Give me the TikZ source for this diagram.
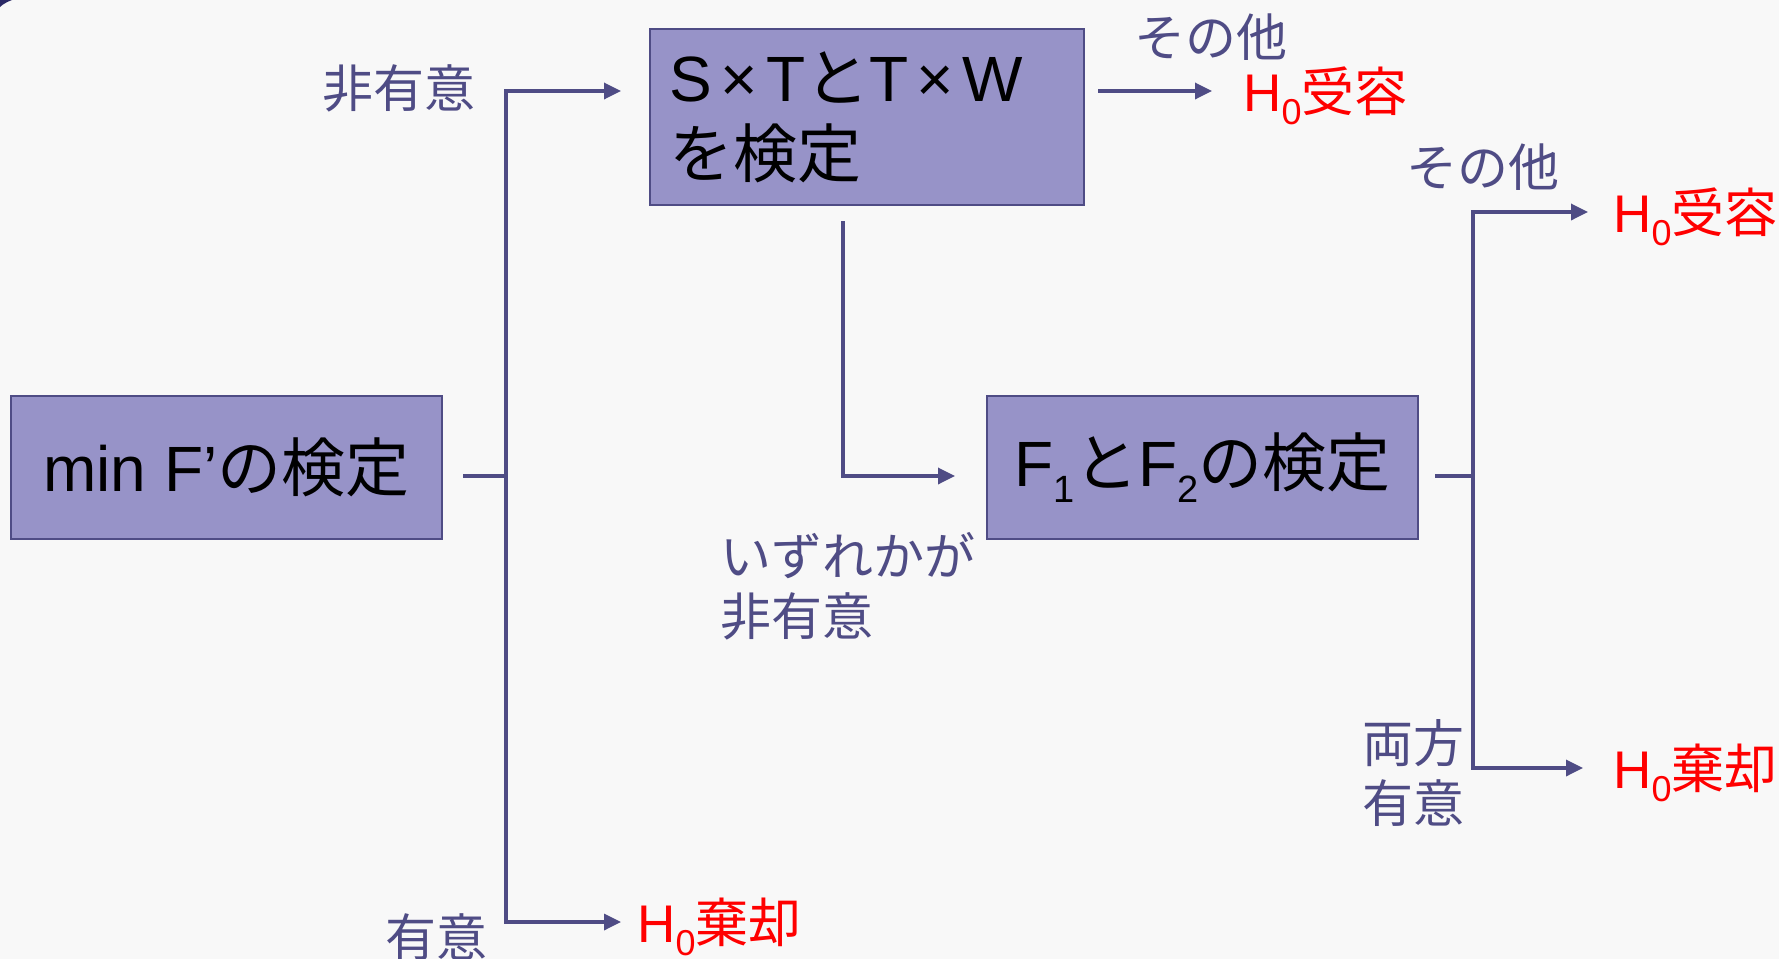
\documentclass[tikz,border=0pt]{standalone}
\usepackage{fontspec}
\setmainfont{Liberation Sans}
\newfontfamily\jp{Noto Sans CJK JP}
\usetikzlibrary{arrows.meta}
\definecolor{bg}{HTML}{F8F8F8}
\definecolor{ink}{HTML}{4F4C85}
\definecolor{boxfill}{HTML}{9793C8}
\definecolor{cornercol}{HTML}{2B2966}
\definecolor{hred}{HTML}{FF0000}
\newcommand{\Hz}{H\raisebox{-6.5pt}{\fontsize{18}{18}\selectfont 0}}
\newcommand{\bsub}[1]{\raisebox{-8pt}{\fontsize{19}{19}\selectfont #1}}
\tikzset{
  box/.style={draw=ink, line width=1pt, fill=boxfill, inner sep=0pt, text=black,
    font=\fontsize{32}{38}\selectfont, minimum width=215.5pt, minimum height=71.5pt},
  lbl/.style={text=ink, font=\jp\fontsize{25.5}{30}\selectfont, inner sep=0pt, align=left},
  res/.style={text=hred, font=\fontsize{26.5}{30}\selectfont, inner sep=0pt, anchor=base west},
  conn/.style={draw=ink, line width=1.7pt},
  arr/.style={conn, -{Triangle[length=8.5pt,width=8pt]}},
}
\begin{document}
\begin{tikzpicture}[x=0.5pt,y=-0.5pt]
\useasboundingbox (0,0) rectangle (1779,959);
\fill[bg] (0,0) rectangle (1779,959);
\fill[cornercol] (0,0) -- (12,0) .. controls (7,2) and (3,4) .. (0,7) -- cycle;

% boxes
\node[box] (b1) at (226.5,467.5) {min F’{\jp の検定}};
\node[box, minimum width=217pt, minimum height=88pt, text width=198pt, align=left, inner xsep=9.5pt]
  (b2) at (867,117) {S\makebox[0.85em]{×}T{\jp と}T\makebox[0.85em]{×}W\\{\jp を検定}};
\node[box] (b3) at (1202.5,467.5) {F\bsub{1}{\jp と}F\bsub{2}{\jp の検定}};

% labels
\node[lbl] (l1) at (399,88) {非有意};
\node[lbl] (l2) at (436,937) {有意};
\node[lbl, anchor=west] (l3) at (720,586) {いずれかが\\非有意};
\node[lbl] (l4) at (1211,37) {その他};
\node[lbl] (l5) at (1483,167) {その他};
\node[lbl, anchor=west] (l6) at (1362,773) {両方\\有意};

% results
\node[res] (r1) at (637,942) {\Hz{\jp 棄却}};
\node[res] (r2) at (1243,111) {\Hz{\jp 受容}};
\node[res] (r3) at (1613,232) {\Hz{\jp 受容}};
\node[res] (r4) at (1613,788) {\Hz{\jp 棄却}};

% connector points
\coordinate (b1out) at (463,476);
\coordinate (j1) at (506,476);
\coordinate (b2in) at (621,91);
\coordinate (r1in) at (621,922);
\coordinate (b2out) at (1098,91);
\coordinate (r2in) at (1212,91);
\coordinate (b2down) at (843,221);
\coordinate (b3in) at (955,476);
\coordinate (b3out) at (1435,476);
\coordinate (j2) at (1473,476);
\coordinate (r3in) at (1588,212);
\coordinate (r4in) at (1583,768);

\draw[conn] (b1out) -- (j1);
\draw[arr] (j1) |- (b2in);
\draw[arr] (j1) |- (r1in);
\draw[arr] (b2out) -- (r2in);
\draw[arr] (b2down) |- (b3in);
\draw[conn] (b3out) -- (j2);
\draw[arr] (j2) |- (r3in);
\draw[arr] (j2) |- (r4in);
\end{tikzpicture}
\end{document}
